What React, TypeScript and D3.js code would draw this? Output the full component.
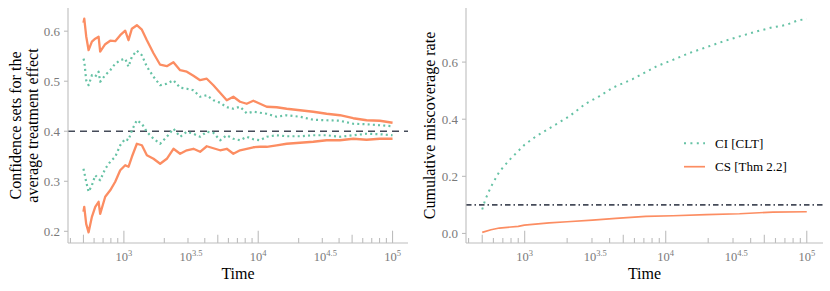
import React from 'react';
import * as d3 from 'd3';

// ---------- Data ----------
const times = [500, 507, 524, 546, 578, 612, 648, 666, 726, 791, 862, 939, 1023, 1082, 1147, 1249, 1361, 1483, 1661, 1862, 2087, 2338, 2622, 2940, 3293, 3692, 4141, 4637, 5200, 5833, 6530, 7322, 8210, 9196, 10313, 11567, 13726, 16292, 20455, 25686, 32310, 40575, 50945, 64079, 80450, 100000];
const csUpper = [0.617, 0.625, 0.59, 0.562, 0.579, 0.585, 0.589, 0.559, 0.574, 0.581, 0.58, 0.592, 0.601, 0.582, 0.605, 0.612, 0.603, 0.582, 0.556, 0.533, 0.53, 0.538, 0.522, 0.519, 0.511, 0.502, 0.505, 0.492, 0.477, 0.462, 0.469, 0.459, 0.455, 0.461, 0.455, 0.449, 0.448, 0.445, 0.442, 0.439, 0.435, 0.432, 0.426, 0.422, 0.421, 0.417];
const ciUpper = [0.545, 0.54, 0.502, 0.492, 0.512, 0.509, 0.519, 0.499, 0.512, 0.522, 0.535, 0.542, 0.545, 0.529, 0.549, 0.561, 0.552, 0.529, 0.509, 0.492, 0.495, 0.502, 0.487, 0.485, 0.482, 0.469, 0.472, 0.462, 0.457, 0.448, 0.445, 0.449, 0.436, 0.439, 0.437, 0.435, 0.429, 0.432, 0.429, 0.423, 0.422, 0.421, 0.415, 0.414, 0.412, 0.41];
const ciLower = [0.325, 0.318, 0.299, 0.279, 0.292, 0.312, 0.305, 0.302, 0.325, 0.339, 0.349, 0.372, 0.385, 0.382, 0.402, 0.422, 0.415, 0.399, 0.385, 0.375, 0.389, 0.405, 0.389, 0.399, 0.395, 0.389, 0.399, 0.397, 0.382, 0.392, 0.385, 0.382, 0.389, 0.384, 0.382, 0.389, 0.392, 0.39, 0.39, 0.392, 0.392, 0.389, 0.392, 0.395, 0.394, 0.392];
const csLower = [0.239, 0.249, 0.215, 0.198, 0.229, 0.249, 0.259, 0.235, 0.269, 0.282, 0.299, 0.322, 0.332, 0.329, 0.349, 0.375, 0.372, 0.352, 0.345, 0.335, 0.345, 0.365, 0.355, 0.362, 0.365, 0.359, 0.37, 0.366, 0.362, 0.365, 0.355, 0.362, 0.365, 0.368, 0.369, 0.369, 0.372, 0.375, 0.377, 0.379, 0.382, 0.382, 0.385, 0.383, 0.385, 0.385];
const trueEffect = 0.4;

const ciMissTimes = [500, 524, 577, 661, 778, 994, 1202, 1578, 2069, 2715, 3373, 4196, 5811, 7219, 8596, 11265, 14786, 19410, 25438, 33395, 43850, 57450, 71480, 84140, 100000];
const ciMiss = [0.084, 0.117, 0.164, 0.216, 0.257, 0.31, 0.34, 0.375, 0.41, 0.455, 0.48, 0.51, 0.54, 0.565, 0.585, 0.608, 0.632, 0.652, 0.672, 0.69, 0.707, 0.722, 0.73, 0.744, 0.752];
const csMissTimes = [500, 577, 661, 900, 994, 1493, 2000, 3027, 4424, 7219, 11265, 19410, 33395, 57450, 100000];
const csMiss = [0.004, 0.013, 0.019, 0.025, 0.029, 0.037, 0.041, 0.047, 0.053, 0.06, 0.062, 0.066, 0.069, 0.075, 0.076];
const alphaLevel = 0.1;

const xTickExps = ['3', '3.5', '4', '4.5', '5'];
const leftYTicks = [0.2, 0.3, 0.4, 0.5, 0.6];
const rightYTicks = [0.0, 0.2, 0.4, 0.6];
const legendLabels = ['CI [CLT]', 'CS [Thm 2.2]'];

// ---------- Styles ----------
const TEAL = '#66c2a5';
const ORANGE = '#fc8d62';
const REF = '#454b59';
const AXIS = '#bdbdbd';
const TICKTXT = '#7a7a7a';
const FONT = '"Liberation Serif", "Times New Roman", serif';

type Series = { t: number[]; v: number[]; color: string; dash?: string; width: number };

function expandDomain(lo: number, hi: number): [number, number] {
  const r = hi - lo;
  return [lo - 0.05 * r, hi + 0.05 * r];
}

function Panel(props: {
  x0: number; x1: number; y0: number; y1: number;
  series: Series[]; yTicks: number[]; hline: number; hlineDash: string;
  titleLines: string[]; titleX: number[]; labelRight: number;
}) {
  const { x0, x1, y0, y1, series, yTicks, hline, hlineDash, titleLines, titleX, labelRight } = props;
  const allT = series.flatMap(s => s.t);
  const allV = series.flatMap(s => s.v).concat([hline]);
  const ld = expandDomain(Math.log10(d3.min(allT)!), Math.log10(d3.max(allT)!));
  const x = d3.scaleLog().domain([10 ** ld[0], 10 ** ld[1]]).range([x0, x1]);
  const yd = expandDomain(d3.min(allV)!, d3.max(allV)!);
  const y = d3.scaleLinear().domain(yd).range([y1, y0]);
  const line = d3.line<[number, number]>().x(d => x(d[0])).y(d => y(d[1]));

  const logTicks: { v: number; len: number }[] = [];
  for (let e = 2; e <= 5; e++) {
    for (let m = 1; m <= 9; m++) {
      const v = m * 10 ** e;
      if (v < x.domain()[0] || v > x.domain()[1]) continue;
      logTicks.push({ v, len: m === 1 ? 12.3 : m === 5 ? 8.3 : 5 });
    }
  }
  const fmt = d3.format('.1f');
  const cy = (y0 + y1) / 2;
  return (
    <g>
      <line x1={x0} x2={x1} y1={y(hline)} y2={y(hline)} stroke={REF} strokeWidth={1.6} strokeDasharray={hlineDash} />
      {series.map((s, i) => (
        <path key={i} d={line(s.t.map((t, j) => [t, s.v[j]] as [number, number])) || ''}
          fill="none" stroke={s.color} strokeWidth={s.width}
          strokeDasharray={s.dash} strokeLinejoin="round" />
      ))}
      <line x1={x0} x2={x0} y1={y0} y2={y1} stroke={AXIS} strokeWidth={1.1} />
      <line x1={x0} x2={x1} y1={y1} y2={y1} stroke={AXIS} strokeWidth={1.1} />
      {logTicks.map((t, i) => (
        <line key={i} x1={x(t.v)} x2={x(t.v)} y1={y1} y2={y1 - t.len} stroke={AXIS} strokeWidth={1.1} />
      ))}
      {yTicks.map((t, i) => (
        <g key={i}>
          <line x1={x0 - 4} x2={x0} y1={y(t)} y2={y(t)} stroke={AXIS} strokeWidth={1.1} />
          <text x={labelRight} y={y(t)} dy="0.35em" textAnchor="end" fontSize={13} fill={TICKTXT} fontFamily={FONT}>{fmt(t)}</text>
        </g>
      ))}
      {xTickExps.map((e, i) => (
        <text key={i} x={x(10 ** +e)} y={y1 + 18} textAnchor="middle" fontSize={12.5} fill={TICKTXT} fontFamily={FONT}>
          10<tspan dy={-5} fontSize={8.5}>{e}</tspan>
        </text>
      ))}
      <text x={(x0 + x1) / 2} y={279} textAnchor="middle" fontSize={16} fill="#000" fontFamily={FONT}>Time</text>
      {titleLines.map((l, i) => (
        <text key={i} transform={`translate(${titleX[i]},${cy}) rotate(-90)`} textAnchor="middle" fontSize={16} fill="#000" fontFamily={FONT}>{l}</text>
      ))}
    </g>
  );
}

export default function App() {
  const leftSeries: Series[] = [
    { t: times, v: csUpper, color: ORANGE, width: 2.3 },
    { t: times, v: csLower, color: ORANGE, width: 2.3 },
    { t: times, v: ciUpper, color: TEAL, dash: '2 3.2', width: 2.2 },
    { t: times, v: ciLower, color: TEAL, dash: '2 3.2', width: 2.2 },
  ];
  const rightSeries: Series[] = [
    { t: ciMissTimes, v: ciMiss, color: TEAL, dash: '2 4.4', width: 2 },
    { t: csMissTimes, v: csMiss, color: ORANGE, width: 1.7 },
  ];
  return (
    <svg width={830} height={291} style={{ position: 'absolute', left: 0, top: 0, background: '#fff' }}>
      <Panel x0={68} x1={408} y0={8} y1={243} series={leftSeries} yTicks={leftYTicks}
        hline={trueEffect} hlineDash="7 5" titleLines={['Confidence sets for the', 'average treatment effect']}
        titleX={[20.7, 37.5]} labelRight={60} />
      <Panel x0={466} x1={823} y0={8} y1={243} series={rightSeries} yTicks={rightYTicks}
        hline={alphaLevel} hlineDash="5.5 3 1.5 3" titleLines={['Cumulative miscoverage rate']}
        titleX={[435]} labelRight={458} />
      <g>
        <line x1={684} x2={705} y1={143.3} y2={143.3} stroke={TEAL} strokeWidth={2} strokeDasharray="2 4.4" />
        <text x={715} y={143.3} dy="0.35em" fontSize={13} fontFamily={FONT} fill="#000">{legendLabels[0]}</text>
        <line x1={684} x2={705} y1={166.7} y2={166.7} stroke={ORANGE} strokeWidth={1.7} />
        <text x={715} y={166.7} dy="0.35em" fontSize={13} fontFamily={FONT} fill="#000">{legendLabels[1]}</text>
      </g>
    </svg>
  );
}
